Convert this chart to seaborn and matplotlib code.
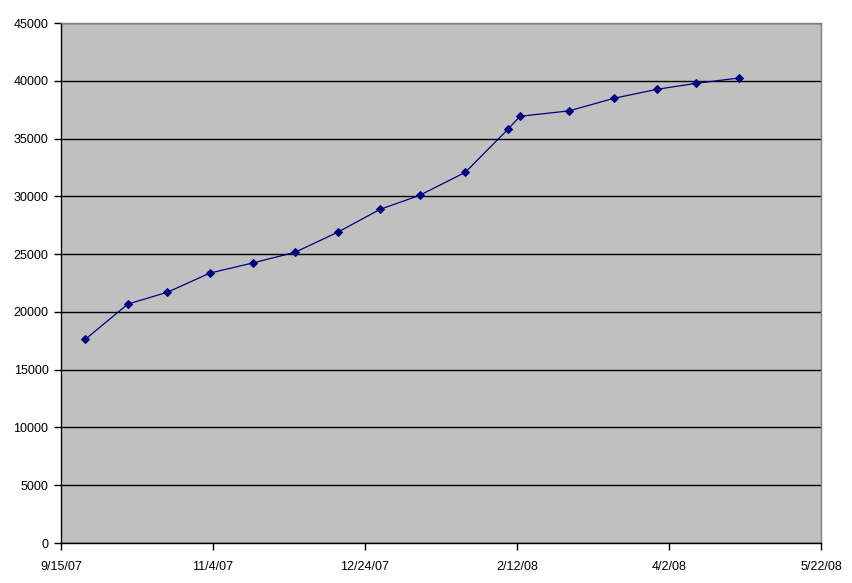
import matplotlib
matplotlib.use("Agg")
import matplotlib.pyplot as plt
import seaborn as sns
import pandas as pd

dates = ["2007-09-23", "2007-10-07", "2007-10-20", "2007-11-03", "2007-11-17",
         "2007-12-01", "2007-12-15", "2007-12-29", "2008-01-11", "2008-01-26",
         "2008-02-09", "2008-02-13", "2008-02-29", "2008-03-15", "2008-03-29",
         "2008-04-11", "2008-04-25"]
values = [17630, 20680, 21700, 23360, 24230, 25160, 26890, 28880, 30090, 32080,
          35800, 36930, 37390, 38490, 39260, 39780, 40240]
x_ticks = ["2007-09-15", "2007-11-04", "2007-12-24", "2008-02-12", "2008-04-02", "2008-05-22"]
y_ticks = [0, 5000, 10000, 15000, 20000, 25000, 30000, 35000, 40000, 45000]

df = pd.DataFrame({"date": pd.to_datetime(dates), "value": values})

sns.set_style("white")
plt.rcParams['font.family'] = ['Liberation Sans', 'DejaVu Sans']

fig = plt.figure(figsize=(8.53, 5.83), dpi=100)
ax = fig.add_axes([61/853, 40/583, 760/853, 520/583])
ax.set_facecolor("#C0C0C0")

sns.lineplot(data=df, x="date", y="value", ax=ax, color="#000080", linewidth=0.9,
             marker="D", markersize=4.5, markeredgecolor="#000080", markerfacecolor="#000080")

xt = pd.to_datetime(x_ticks)
ax.set_xlim(xt[0], xt[-1])
ax.set_xticks(xt)
ax.set_xticklabels([f"{d.month}/{d.day}/{d.year % 100:02d}" for d in xt])
ax.set_ylim(0, 45000)
ax.set_yticks(y_ticks)
ax.set_yticklabels([str(v) for v in y_ticks])
ax.yaxis.grid(True, color="black", linewidth=1)
ax.xaxis.grid(False)
ax.set_axisbelow(True)
ax.set_xlabel("")
ax.set_ylabel("")

for s in ["left", "bottom"]:
    ax.spines[s].set_color("black")
    ax.spines[s].set_linewidth(1)
for s in ["top", "right"]:
    ax.spines[s].set_color("#808080")
    ax.spines[s].set_linewidth(1)

ax.tick_params(axis="both", direction="out", length=5, width=1, color="black",
               labelsize=9, labelcolor="black", bottom=True, left=True)
ax.tick_params(axis="x", pad=8)
ax.tick_params(axis="y", pad=4)

fig.savefig("out.png", dpi=100, facecolor="white")
